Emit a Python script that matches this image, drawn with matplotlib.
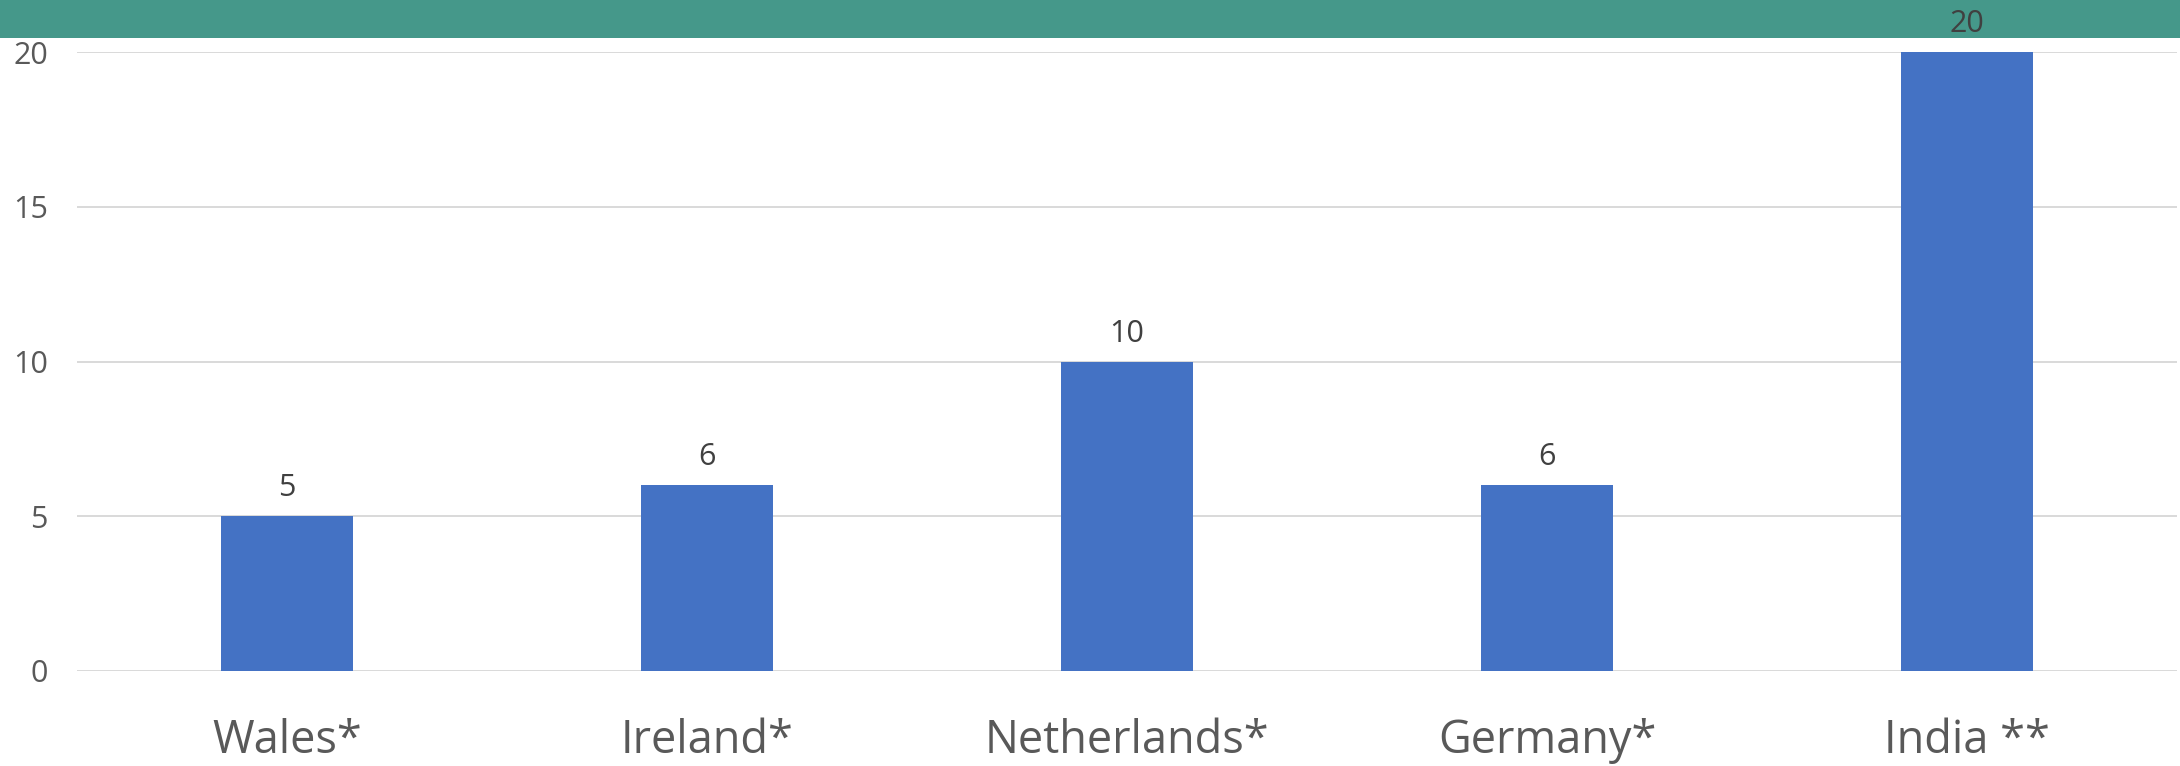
import matplotlib
matplotlib.use("Agg")
import matplotlib.pyplot as plt
from matplotlib.patches import Rectangle

categories = ["Wales*", "Ireland*", "Netherlands*", "Germany*", "India **"]
values = [5, 6, 10, 6, 20]
yticks = [0, 5, 10, 15, 20]

plt.rcParams['font.family'] = ['Open Sans', 'DejaVu Sans']

W, H = 2180, 766
fig = plt.figure(figsize=(W / 100, H / 100), dpi=100)
fig.patch.set_facecolor("white")

# green band on top
band = Rectangle((0, 1 - 38 / H), 1, 38 / H, transform=fig.transFigure,
                 facecolor="#45988A", edgecolor="none", zorder=-5)
fig.add_artist(band)

ax = fig.add_axes([77 / W, (H - 671) / H, 2100 / W, (671 - 52) / H])
ax.set_facecolor("none")
x = list(range(len(categories)))
bars = ax.bar(x, values, width=0.312, color="#4472C4", zorder=3)
ax.set_xlim(-0.5, len(categories) - 0.5)
ax.set_ylim(0, 20)
ax.set_yticks(yticks)
ax.set_yticklabels([str(v) for v in yticks])
ax.set_xticks(x)
ax.set_xticklabels(categories, va="baseline")
ax.yaxis.grid(True, color="#D9D9D9", linewidth=1.4, zorder=0)
ax.set_axisbelow(True)
for s in ax.spines.values():
    s.set_visible(False)
ax.tick_params(axis="y", length=0, pad=21, labelsize=22, labelcolor="#595959")
ax.tick_params(axis="x", length=0, pad=59, labelsize=32.5, labelcolor="#595959")

for xi, v in zip(x, values):
    ax.annotate(str(v), (xi, v), xytext=(0, 14.4), textcoords="offset points",
                ha="center", va="baseline", fontsize=22, color="#404040",
                annotation_clip=False, zorder=10)

fig.savefig("out.png", dpi=100)
